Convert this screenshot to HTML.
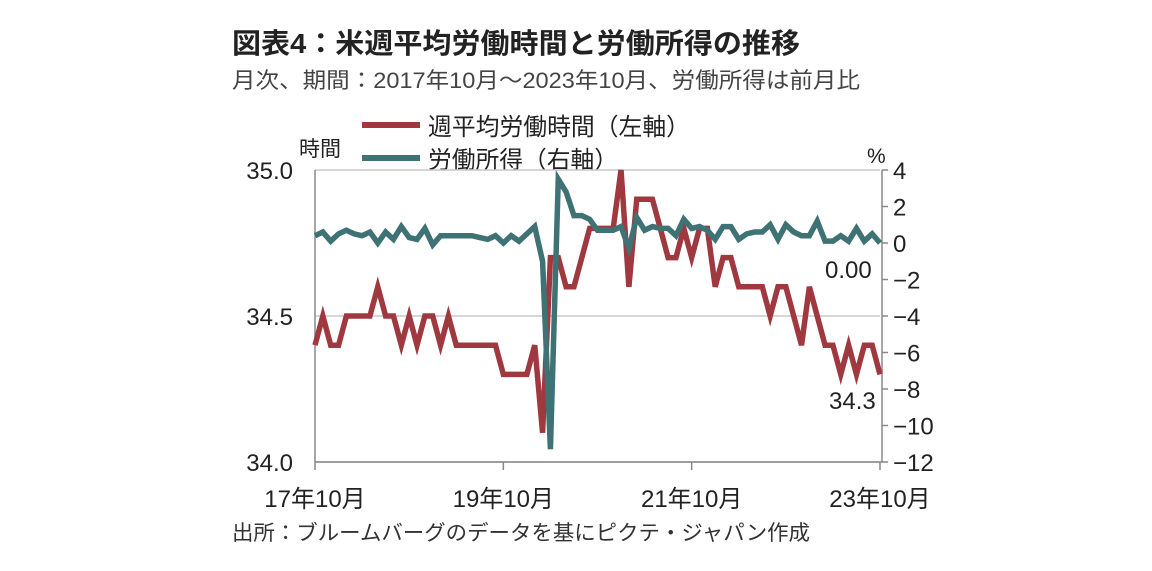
<!DOCTYPE html>
<html><head><meta charset="utf-8"><style>
body{margin:0;background:#fff;}
svg{display:block;font-family:"Liberation Sans","Noto Sans CJK JP",sans-serif;}
</style></head><body>
<svg id="chart" width="1152" height="571" viewBox="0 0 1152 571">
<text x="232" y="53" font-size="28" font-weight="bold" fill="#222" textLength="568" lengthAdjust="spacingAndGlyphs">図表4：米週平均労働時間と労働所得の推移</text>
<text x="232" y="88" font-size="22" fill="#444" textLength="628" lengthAdjust="spacingAndGlyphs">月次、期間：2017年10月～2023年10月、労働所得は前月比</text>
<line x1="362" y1="125" x2="420" y2="125" stroke="#a0393f" stroke-width="6"/>
<text x="428" y="135" font-size="24" fill="#222" textLength="262" lengthAdjust="spacingAndGlyphs">週平均労働時間（左軸）</text>
<line x1="362" y1="158" x2="420" y2="158" stroke="#3e7274" stroke-width="6"/>
<text x="428" y="168" font-size="24" fill="#222" textLength="190" lengthAdjust="spacingAndGlyphs">労働所得（右軸）</text>
<text x="299" y="156" font-size="21" fill="#222">時間</text>
<text x="867" y="163" font-size="21" fill="#222">%</text>
<g id="axes"></g>
<g id="series"></g>
<text x="825" y="278" font-size="24" fill="#222">0.00</text>
<text x="829" y="409" font-size="24" fill="#222">34.3</text>
<text x="232" y="540" font-size="21" fill="#333" textLength="578" lengthAdjust="spacingAndGlyphs">出所：ブルームバーグのデータを基にピクテ・ジャパン作成</text>
</svg>
<script>
const hours=[34.4,34.5,34.4,34.4,34.5,34.5,34.5,34.5,34.6,34.5,34.5,34.4,34.5,34.4,34.5,34.5,34.4,34.5,34.4,34.4,34.4,34.4,34.4,34.4,34.3,34.3,34.3,34.3,34.4,34.1,34.7,34.7,34.6,34.6,34.7,34.8,34.8,34.8,34.8,35.0,34.6,34.9,34.9,34.9,34.8,34.7,34.7,34.8,34.7,34.8,34.8,34.6,34.7,34.7,34.6,34.6,34.6,34.6,34.5,34.6,34.6,34.5,34.4,34.6,34.5,34.4,34.4,34.3,34.4,34.3,34.4,34.4,34.3];
const income=[0.4,0.6,0.1,0.5,0.7,0.5,0.4,0.6,0.0,0.6,0.2,0.9,0.3,0.2,0.8,-0.1,0.4,0.4,0.4,0.4,0.4,0.3,0.2,0.4,0.0,0.4,0.1,0.5,0.9,-1.0,-11.3,3.5,2.8,1.5,1.5,1.3,0.7,0.7,0.7,0.9,-0.3,1.4,0.7,0.9,0.8,0.8,0.4,1.3,0.8,0.9,0.7,0.2,0.9,0.9,0.2,0.5,0.6,0.6,1.0,0.2,1.0,0.6,0.4,0.4,1.2,0.1,0.1,0.4,0.1,0.8,0.1,0.5,0.0];
const leftTicks=["35.0","34.5","34.0"];
const leftTickVals=[35.0,34.5,34.0];
const rightTickVals=[4,2,0,-2,-4,-6,-8,-10,-12];
const xLabels=["17年10月","19年10月","21年10月","23年10月"];
const xLabelIdx=[0,24,48,72];
const NS="http://www.w3.org/2000/svg";
const X0=315,X1=880,YT=170,YB=462;
const x=i=>X0+(X1-X0)*i/(hours.length-1);
const yL=v=>YB-(v-34.0)/(35.0-34.0)*(YB-YT);
const yR=v=>YB-(v+12)/16*(YB-YT);
function mk(tag,attrs,parent){const e=document.createElementNS(NS,tag);for(const k in attrs)e.setAttribute(k,attrs[k]);parent.appendChild(e);return e;}
const ax=document.getElementById('axes');
leftTickVals.forEach((v,k)=>{
  const g=mk('line',{x1:X0,x2:X1,y1:yL(v),y2:yL(v),stroke:'#c8c8c8','stroke-width':1.5},ax);
  
  
  const t=mk('text',{x:293,y:yL(v)+9,'font-size':24,'text-anchor':'end',fill:'#222'},ax);
  t.textContent=leftTicks[k];
  
  
});
const la=mk('line',{x1:X0,x2:X0,y1:YT,y2:YB,stroke:'#888','stroke-width':1.5},ax);


const ra=mk('line',{x1:X1+2,x2:X1+2,y1:YT,y2:YB,stroke:'#888','stroke-width':1.5},ax);


const ba=mk('line',{x1:X0,x2:X1+2,y1:YB,y2:YB,stroke:'#888','stroke-width':1.5},ax);


rightTickVals.forEach(v=>{
  mk('line',{x1:X1+2,x2:X1+8,y1:yR(v),y2:yR(v),stroke:'#888','stroke-width':1.5},ax);
  const t=mk('text',{x:893,y:yR(v)+9,'font-size':24,fill:'#222'},ax);
  t.textContent=(v<0?'−':'')+Math.abs(v);
  
  
});
xLabelIdx.forEach((idx,k)=>{
  mk('line',{x1:x(idx),x2:x(idx),y1:YB,y2:YB+8,stroke:'#888','stroke-width':1.5},ax);
  const t=mk('text',{x:x(idx),y:507,'font-size':24,'text-anchor':'middle',fill:'#222'},ax);
  t.textContent=xLabels[k];
  
  
});
const se=document.getElementById('series');
const pH=mk('polyline',{points:hours.map((v,i)=>x(i)+','+yL(v)).join(' '),fill:'none',stroke:'#a0393f','stroke-width':5.5,'stroke-linejoin':'miter'},se);


const pI=mk('polyline',{points:income.map((v,i)=>x(i)+','+yR(v)).join(' '),fill:'none',stroke:'#3e7274','stroke-width':5.5,'stroke-linejoin':'miter'},se);


</script>
</body></html>
